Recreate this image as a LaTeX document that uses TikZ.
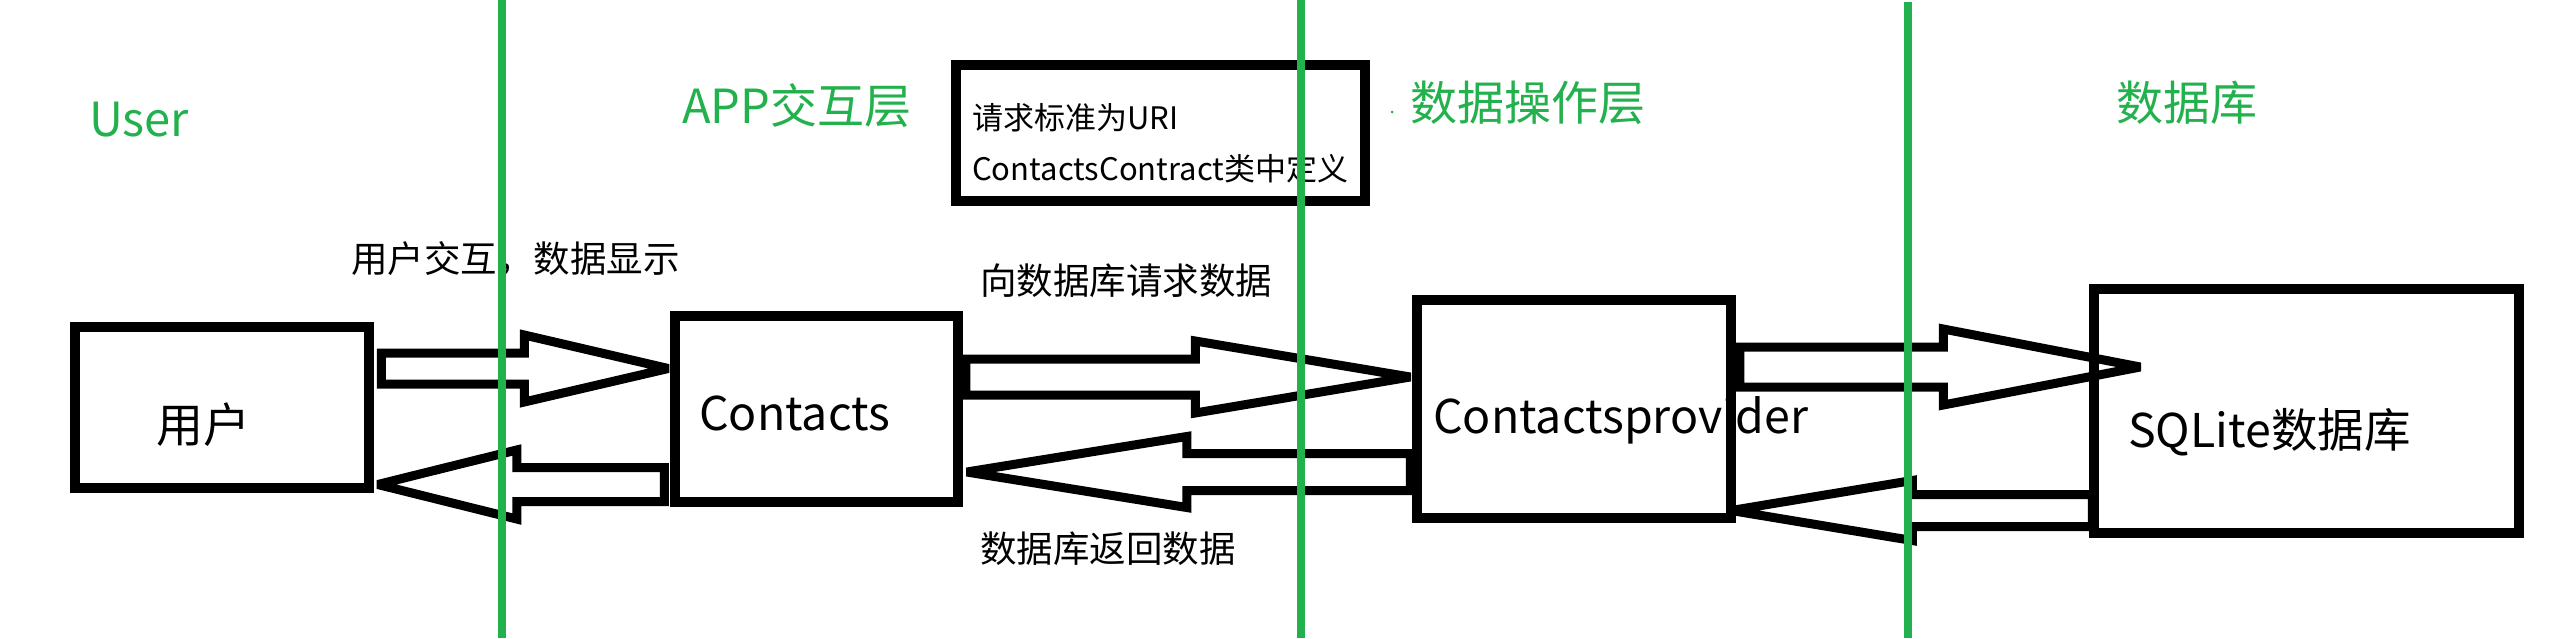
\documentclass[tikz,border=0pt]{standalone}
\usepackage{fontspec}
\setmainfont{Noto Sans CJK SC}
\usetikzlibrary{calc}
\definecolor{pgreen}{HTML}{22B14C}
\tikzset{
  boxnode/.style={draw=black, line width=9.5pt, rectangle, inner sep=0pt},
  blockarrowline/.style={draw=black, line width=9pt, line join=miter, miter limit=2},
  layerlabel/.style={text=pgreen, font=\fontsize{47}{56}\selectfont, anchor=base west, inner sep=0pt},
  boxtext/.style={font=\fontsize{46.5}{56}\selectfont, anchor=base west, inner sep=0pt},
  cjkboxtext/.style={font=\fontsize{47}{56}\selectfont, anchor=base west, inner sep=0pt},
  smalllabel/.style={font=\fontsize{36.5}{44}\selectfont, anchor=base west, inner sep=0pt},
  notetext/.style={font=\fontsize{31}{38}\selectfont, anchor=base west, inner sep=0pt},
  layerline/.style={draw=pgreen, line width=8pt},
}
% #1 tail, #2 tip, #3 head length, #4 shaft half width, #5 head half width
\newcommand{\blockarrow}[5]{%
  \coordinate (hb) at ($(#2)!#3!(#1)$);
  \draw[blockarrowline] ($(#1)!#4!90:(#2)$) -- ($(hb)!#4!90:(#2)$) -- ($(hb)!#5!90:(#2)$) -- (#2)
     -- ($(hb)!#5!-90:(#2)$) -- ($(hb)!#4!-90:(#2)$) -- ($(#1)!#4!-90:(#2)$) -- cycle;}
\begin{document}
\begin{tikzpicture}[x=1pt, y=-1pt]
\useasboundingbox (0,0) rectangle (2560,638);
\fill[white] (0,0) rectangle (2560,638);

% boxes
\node[boxnode, minimum width=294pt, minimum height=161pt] (user) at (222,407.5) {};
\node[boxnode, minimum width=283pt, minimum height=186pt] (contacts) at (816.5,409) {};
\node[boxnode, minimum width=314pt, minimum height=218pt] (provider) at (1574,409) {};
\node[boxnode, minimum width=425pt, minimum height=244pt] (sqlite) at (2306.5,411) {};
\node[boxnode, minimum width=409pt, minimum height=136pt] (note) at (1160.5,133) {};

% box texts
\node[cjkboxtext] (usertext) at (156,442) {用户};
\node[boxtext] (contactstext) at (699,430) {Contacts};
\node[boxtext] (providertext) at (1433,433) {Contactsprovider};
\node[boxtext] (sqlitetext) at (2128,447) {SQLite数据库};
\node[notetext] (noteline1) at (972,129) {请求标准为URI};
\node[notetext] (noteline2) at (972,180) {ContactsContract类中定义};

% labels
\node[smalllabel] (lab1) at (351,272.5) {用户交互，数据显示};
\node[smalllabel] (lab2) at (980,294.5) {向数据库请求数据};
\node[smalllabel] (lab3) at (980,562.5) {数据库返回数据};

% layer labels
\node[layerlabel] (layeruser) at (89,136) {User};
\node[layerlabel] (layerapp) at (682,123) {APP交互层};
\node[layerlabel] (layerdata) at (1410,120) {数据操作层};
\node[layerlabel] (layerdb) at (2116,120) {数据库};
\fill[pgreen] (1392,112) circle (1.5);

% arrow end points
\coordinate (a1s) at ($(user.east|-0,368.5)+(7.5,0)$);
\coordinate (a1e) at ($(contacts.west|-0,368.5)+(-2,0)$);
\coordinate (a2s) at ($(contacts.west|-0,484.5)+(-6,0)$);
\coordinate (a2e) at ($(user.east|-0,484.5)+(4,0)$);
\coordinate (a3s) at ($(contacts.east|-0,377)+(3,0)$);
\coordinate (a3e) at ($(provider.west|-0,377)+(-2,0)$);
\coordinate (a4s) at ($(provider.west|-0,472)+(-2,0)$);
\coordinate (a4e) at ($(contacts.east|-0,472)+(4,0)$);
\coordinate (a5s) at ($(provider.east|-0,367)+(4,0)$);
\coordinate (a5e) at ($(sqlite.west|-0,367)+(51,0)$);
\coordinate (a6s) at ($(sqlite.west|-0,510.5)+(3,0)$);
\coordinate (a6e) at ($(provider.east|-0,510.5)+(-4.5,0)$);

\blockarrow{a1s}{a1e}{144pt}{15.5pt}{33.5pt}
\blockarrow{a2s}{a2e}{139pt}{17pt}{34.5pt}
\blockarrow{a3s}{a3e}{215pt}{18pt}{36pt}
\blockarrow{a4s}{a4e}{220pt}{18.5pt}{35.5pt}
\blockarrow{a5s}{a5e}{197pt}{20pt}{38pt}
\blockarrow{a6s}{a6e}{181pt}{16pt}{30pt}

% layer separators
\draw[layerline] (502,0) -- (502,638);
\draw[layerline] (1301,0) -- (1301,638);
\draw[layerline] (1908,2) -- (1908,638);
\end{tikzpicture}
\end{document}
